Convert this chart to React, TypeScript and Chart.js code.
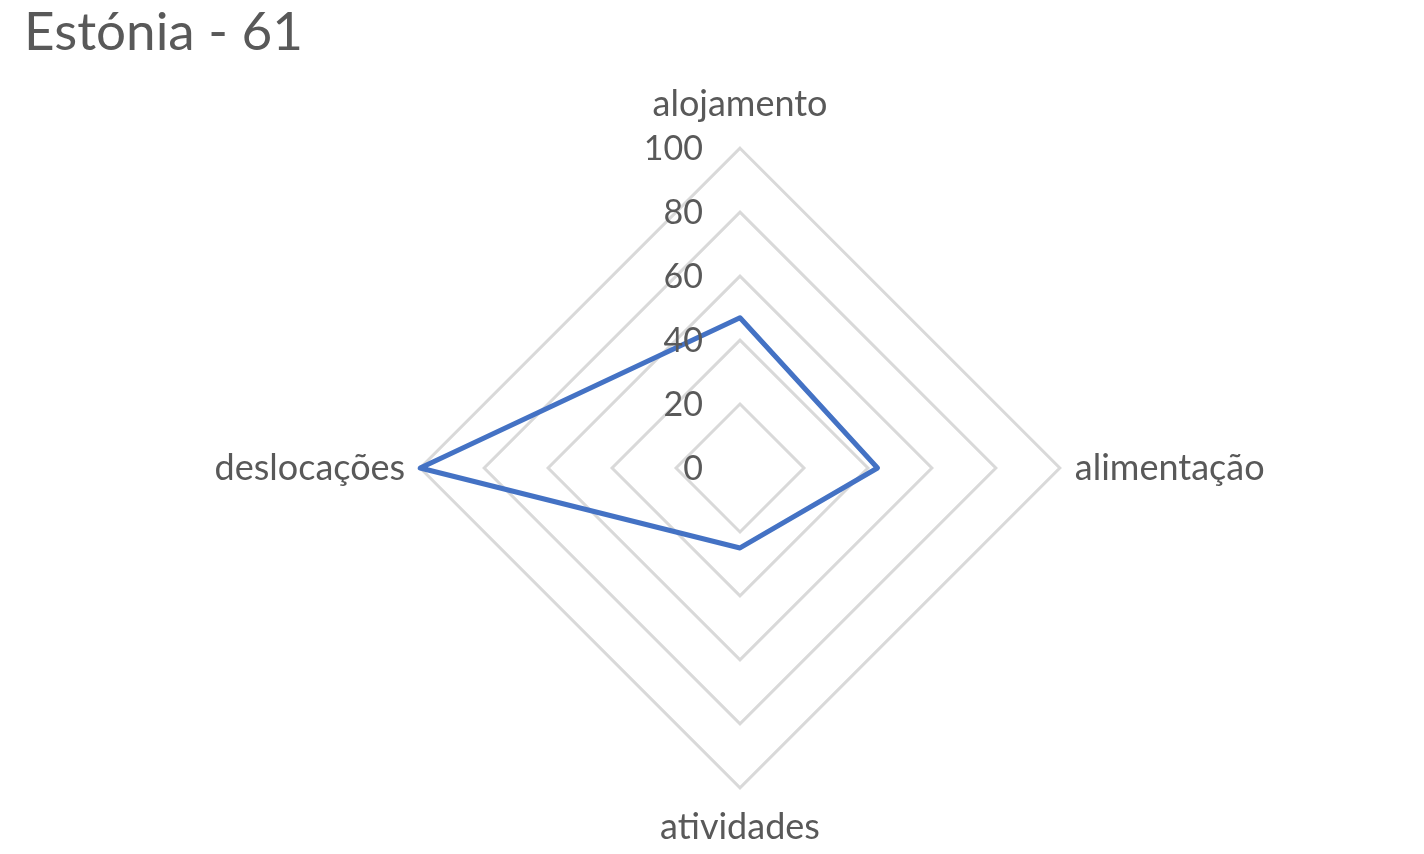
import React, { useEffect, useRef } from "react";
import { Chart, registerables } from "chart.js";

Chart.register(...registerables);

const TITLE = "Estónia - 61";
const CATEGORIES = ["alojamento", "alimentação", "atividades", "deslocações"];
const SERIES_NAME = "Estónia";
const VALUES = [47, 43, 25, 100];
const TICK_VALUES = [0, 20, 40, 60, 80, 100];

const FONT = "Lato, 'Open Sans', sans-serif";
const TEXT_COLOR = "#595959";
const GRID_COLOR = "#d9d9d9";
const LINE_COLOR = "#4472c4";

const titlePlugin = {
  id: "cornerTitle",
  afterDraw(chart: any) {
    const ctx = chart.ctx;
    ctx.save();
    ctx.font = `53px ${FONT}`;
    ctx.fillStyle = TEXT_COLOR;
    ctx.textAlign = "left";
    ctx.textBaseline = "alphabetic";
    ctx.fillText(TITLE, 24, 50);
    ctx.restore();
  },
};

const tickLabelPlugin = {
  id: "sideTicks",
  afterDatasetsDraw(chart: any) {
    const scale = chart.scales.r;
    const ctx = chart.ctx;
    ctx.save();
    ctx.font = `34px ${FONT}`;
    ctx.fillStyle = TEXT_COLOR;
    ctx.textAlign = "right";
    ctx.textBaseline = "middle";
    TICK_VALUES.forEach((v) => {
      const p = scale.getPointPositionForValue(0, v);
      ctx.fillText(String(v), scale.xCenter - 37, p.y + 1);
    });
    ctx.restore();
  },
};

export default function App() {
  const canvasRef = useRef<HTMLCanvasElement | null>(null);

  useEffect(() => {
    if (!canvasRef.current) return;
    const chart = new Chart(canvasRef.current, {
      type: "radar",
      data: {
        labels: CATEGORIES,
        datasets: [
          {
            label: SERIES_NAME,
            data: VALUES,
            borderColor: LINE_COLOR,
            borderWidth: 5,
            borderJoinStyle: "round",
            pointRadius: 0,
            pointHoverRadius: 0,
            fill: false,
            tension: 0,
          },
        ],
      },
      plugins: [titlePlugin, tickLabelPlugin],
      options: {
        animation: false,
        responsive: true,
        maintainAspectRatio: false,
        layout: { padding: { left: 56, right: 0, top: 81, bottom: 2 } },
        plugins: {
          legend: { display: false },
          title: { display: false },
          tooltip: { enabled: false },
        },
        scales: {
          r: {
            min: 0,
            max: 100,
            ticks: { display: false, stepSize: 20 },
            grid: { color: GRID_COLOR, lineWidth: 3, circular: false },
            angleLines: { display: false },
            pointLabels: {
              display: true,
              color: TEXT_COLOR,
              font: { family: FONT, size: 36 },
              padding: (ctx: any) => [22, 15, 18, 15][ctx.index],
            },
          },
        },
      },
    });
    return () => chart.destroy();
  }, []);

  return (
    <div style={{ position: "absolute", left: 0, top: 0, width: 1424, height: 854, background: "#fff" }}>
      <canvas ref={canvasRef} />
    </div>
  );
}
